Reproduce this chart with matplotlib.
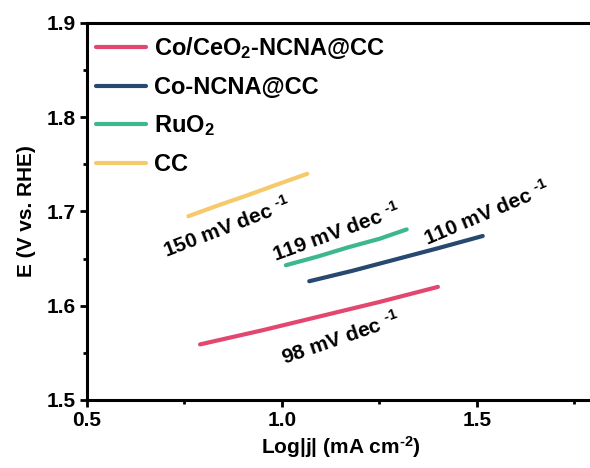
import matplotlib
matplotlib.use('Agg')
import matplotlib.pyplot as plt
from matplotlib.ticker import MultipleLocator

plt.rcParams['font.family'] = ['Liberation Sans', 'DejaVu Sans']
plt.rcParams['font.weight'] = 'bold'
plt.rcParams['mathtext.fontset'] = 'custom'
plt.rcParams['mathtext.rm'] = 'Liberation Sans:bold'
plt.rcParams['mathtext.default'] = 'rm'

# Tafel data
labels = ['Co/CeO$_2$-NCNA@CC', 'Co-NCNA@CC', 'RuO$_2$', 'CC']
colors = ['#E2476F', '#27496F', '#3DB78F', '#F6C96B']

x_ceo2 = [0.79, 0.95, 1.10, 1.25, 1.40]
y_ceo2 = [1.559, 1.574, 1.589, 1.604, 1.620]
x_co = [1.07, 1.18, 1.29, 1.40, 1.515]
y_co = [1.626, 1.637, 1.649, 1.661, 1.674]
x_ruo2 = [1.01, 1.09, 1.17, 1.25, 1.32]
y_ruo2 = [1.643, 1.652, 1.662, 1.671, 1.681]
x_cc = [0.76, 0.84, 0.91, 0.99, 1.065]
y_cc = [1.695, 1.707, 1.717, 1.729, 1.740]

slopes = ['98', '110', '119', '150']
slope_x = [1.149, 1.526, 1.141, 0.859]
slope_y = [1.566, 1.698, 1.678, 1.683]
slope_rot = [19, 23, 20, 21]

fig = plt.figure(figsize=(5.9, 4.68), dpi=100)
ax = fig.add_axes([0.1475, 0.1453, 0.859, 0.8056])

xs = [x_ceo2, x_co, x_ruo2, x_cc]
ys = [y_ceo2, y_co, y_ruo2, y_cc]
for x, y, c, lab in zip(xs, ys, colors, labels):
    ax.plot(x, y, color=c, lw=3, label=lab, solid_capstyle='round',
            solid_joinstyle='round')

for s, tx, ty, r in zip(slopes, slope_x, slope_y, slope_rot):
    ax.text(tx, ty, s + ' mV dec $^{\u2010' + '1}$', fontsize=15, fontweight='bold',
            rotation=r, ha='center', va='center', rotation_mode='anchor')

ax.set_xlim(0.5, 1.8)
ax.set_ylim(1.5, 1.9)
ax.xaxis.set_major_locator(MultipleLocator(0.5))
ax.xaxis.set_minor_locator(MultipleLocator(0.25))
ax.yaxis.set_major_locator(MultipleLocator(0.1))
ax.yaxis.set_minor_locator(MultipleLocator(0.05))
ax.tick_params(which='major', direction='out', length=5, width=2, labelsize=15, pad=3)
ax.tick_params(which='minor', direction='out', length=3, width=2)
for sp in ax.spines.values():
    sp.set_linewidth(2.2)

ax.set_xlabel('Log|j| (mA cm$^{\u2010' + '2}$)', fontsize=15, fontweight='bold', labelpad=3)
ax.set_ylabel('E (V vs. RHE)', fontsize=15, fontweight='bold', labelpad=8)

ax.legend(loc='upper left', bbox_to_anchor=(-0.01, 1.005), frameon=False,
          fontsize=17, handlelength=2.1, handletextpad=0.35, labelspacing=0.62,
          borderaxespad=0.2)

fig.savefig('out.png', dpi=100)
